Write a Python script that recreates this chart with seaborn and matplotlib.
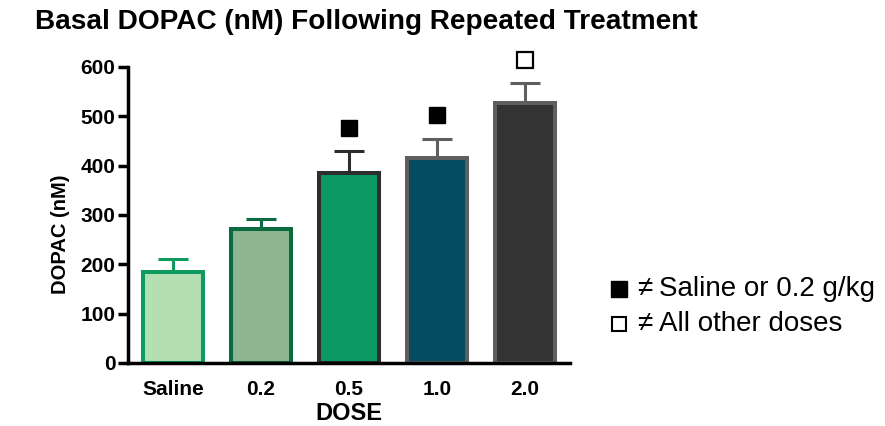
import matplotlib
matplotlib.use("Agg")
import matplotlib.pyplot as plt
from matplotlib.lines import Line2D
import seaborn as sns
import numpy as np

doses = ["Saline", "0.2", "0.5", "1.0", "2.0"]
means = [184, 272, 386, 415, 528]
sems = [27, 20, 44, 40, 40]
fills = ["#b3dfb3", "#91b591", "#0c9a62", "#044c5f", "#333333"]
edges = ["#0f9a60", "#0a6a40", "#2d2d2d", "#5f5f5f", "#5f5f5f"]
marks = ["", "", "filled", "filled", "open"]
mark_offset = 47
legend_lines = ["Saline or 0.2 g/kg", "All other doses"]

sns.set_style("white")
plt.rcParams['font.family'] = ['Liberation Sans', 'DejaVu Sans']
plt.rcParams['text.color'] = 'black'
plt.rcParams['axes.labelcolor'] = 'black'
plt.rcParams['xtick.color'] = 'black'
plt.rcParams['ytick.color'] = 'black'

fig = plt.figure(figsize=(8.85, 4.26), dpi=100)
ax = fig.add_axes([128/885, 1-363/426, (570-128)/885, (363-67)/426])

sns.barplot(x=doses, y=means, hue=doses, palette=fills, legend=False,
            width=0.68, saturation=1, ax=ax, zorder=2)
for patch, ec in zip(ax.patches, edges):
    patch.set_edgecolor(ec)
    patch.set_linewidth(2.9)

for i, (m, s, ec) in enumerate(zip(means, sems, edges)):
    ax.errorbar(i, m, yerr=[[0], [s]], color=ec, elinewidth=2.2,
                capsize=11, capthick=2.2, zorder=1)
    if marks[i] == "filled":
        ax.plot(i, m + s + mark_offset, marker='s', ms=11.5, color='black',
                clip_on=False, zorder=3)
    elif marks[i] == "open":
        ax.plot(i, m + s + mark_offset, marker='s', ms=11, mfc='white',
                mec='black', mew=1.6, clip_on=False, zorder=3)

ax.set_xlim(-0.51, 4.51)
ax.set_ylim(0, 600)
ax.set_yticks([0, 100, 200, 300, 400, 500, 600])
sns.despine(ax=ax)
for sp in ["left", "bottom"]:
    ax.spines[sp].set_linewidth(2.5)
    ax.spines[sp].set_color("black")
ax.tick_params(axis='y', which='both', left=True, length=7, width=2.5,
               labelsize=15, pad=2, color='black')
ax.tick_params(axis='x', bottom=False, labelsize=15, pad=9)
for lab in ax.get_yticklabels() + ax.get_xticklabels():
    lab.set_fontweight('bold')
ax.set_ylabel("DOPAC (nM)", fontsize=14.5, fontweight='bold')
ax.yaxis.set_label_coords(-0.132, 0.436)
ax.set_xlabel("DOSE", fontsize=17, fontweight='bold', labelpad=2)

fig.text(35/885, 1-22/426, "Basal DOPAC (nM) Following Repeated Treatment",
         fontsize=20.2, fontweight='bold', va='center', ha='left')

# legend key: markers + "≠" + text
for yy, filled, txt in [(289, True, legend_lines[0]), (324, False, legend_lines[1])]:
    if filled:
        fig.add_artist(Line2D([619/885], [1-yy/426], marker='s', ms=11.5, color='black',
                              linestyle='none', transform=fig.transFigure))
    else:
        fig.add_artist(Line2D([619/885], [1-yy/426], marker='s', ms=10.5, mfc='white',
                              mec='black', mew=1.5, linestyle='none',
                              transform=fig.transFigure))
    fig.text(645/885, 1-yy/426, "\u2260", fontsize=20, va='center', ha='center')
    fig.text(659/885, 1-yy/426, txt, fontsize=20, va='center', ha='left')

fig.savefig("out.png", dpi=100)
